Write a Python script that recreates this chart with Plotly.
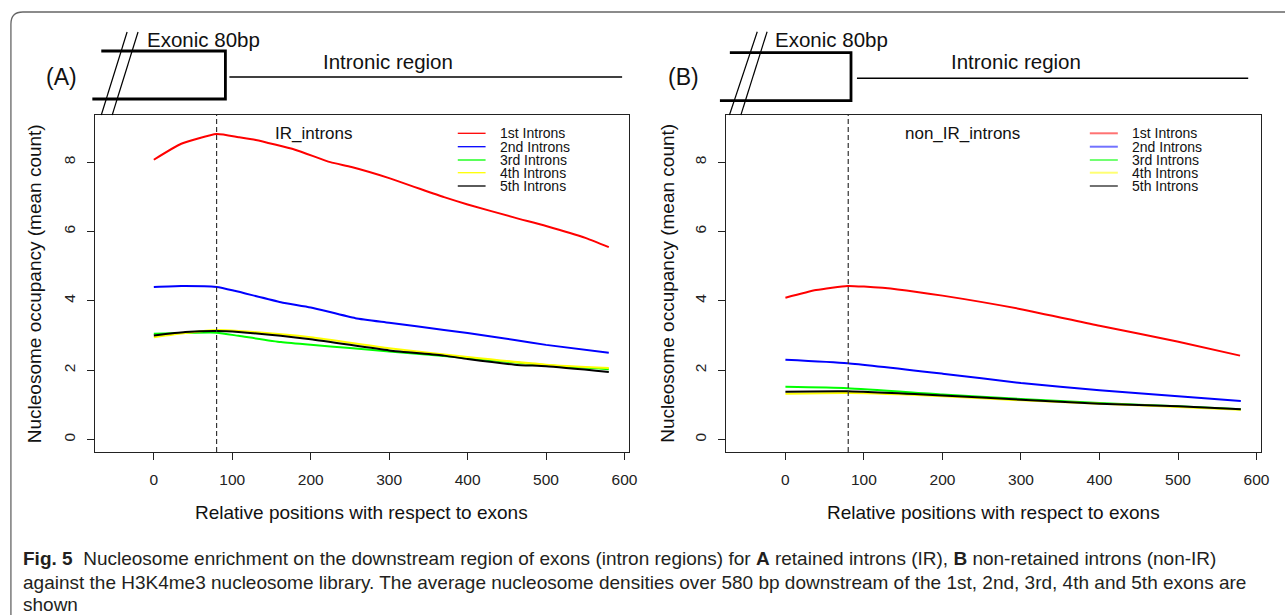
import plotly.graph_objects as go

W, H = 1285, 615

# ---------------- data ----------------
intron_names = ["1st Introns", "2nd Introns", "3rd Introns", "4th Introns", "5th Introns"]
line_colors = ["#ff0000", "#0000ff", "#00ff00", "#ffff00", "#000000"]

x_ticks = [0, 100, 200, 300, 400, 500, 600]
y_ticks = [0, 2, 4, 6, 8]

# Panel A: IR introns
a1_x = [0, 35, 80, 108, 130, 180, 225, 252, 300, 370, 400, 460, 500, 551, 580]
a1_y = [8.07, 8.53, 8.81, 8.72, 8.64, 8.36, 8.00, 7.86, 7.54, 6.99, 6.78, 6.40, 6.16, 5.81, 5.55]
a2_x = [0, 35, 80, 103, 162, 200, 257, 300, 370, 400, 460, 500, 580]
a2_y = [4.40, 4.43, 4.40, 4.29, 3.96, 3.81, 3.50, 3.37, 3.16, 3.07, 2.87, 2.73, 2.50]
a3_x = [0, 80, 108, 162, 200, 250, 300, 400, 500, 580]
a3_y = [3.05, 3.08, 2.99, 2.81, 2.73, 2.64, 2.54, 2.35, 2.14, 2.03]
a4_x = [0, 40, 80, 108, 200, 300, 400, 500, 580]
a4_y = [2.95, 3.07, 3.16, 3.13, 2.95, 2.63, 2.38, 2.16, 2.06]
a5_x = [0, 40, 80, 108, 200, 300, 370, 400, 460, 500, 580]
a5_y = [3.00, 3.10, 3.13, 3.10, 2.89, 2.57, 2.42, 2.32, 2.16, 2.11, 1.95]

# Panel B: non-IR introns
b1_x = [0, 39, 79, 100, 143, 200, 300, 400, 499, 579]
b1_y = [4.09, 4.31, 4.43, 4.41, 4.33, 4.15, 3.76, 3.28, 2.83, 2.42]
b_x = [0, 79, 200, 300, 400, 500, 580]
b2_y = [2.30, 2.20, 1.90, 1.63, 1.42, 1.25, 1.11]
b3_y = [1.52, 1.48, 1.30, 1.17, 1.05, 0.96, 0.87]
b4_y = [1.32, 1.34, 1.25, 1.13, 1.03, 0.94, 0.86]
b5_y = [1.38, 1.39, 1.27, 1.15, 1.03, 0.96, 0.87]

exon_boundary = 80

caption_lines = [
    "<b>Fig. 5</b>&nbsp;&nbsp;Nucleosome enrichment on the downstream region of exons (intron regions) for <b>A</b> retained introns (IR), <b>B</b> non-retained introns (non-IR)",
    "against the H3K4me3 nucleosome library. The average nucleosome densities over 580 bp downstream of the 1st, 2nd, 3rd, 4th and 5th exons are",
    "shown",
]

# ---------------- helpers ----------------
def fx(x):
    return x / W

def fy(y):
    return 1 - y / H

FONT = "Liberation Sans, Arial, sans-serif"

fig = go.Figure()

panelA = [(a1_x, a1_y), (a2_x, a2_y), (a3_x, a3_y), (a4_x, a4_y), (a5_x, a5_y)]
panelB = [(b1_x, b1_y), (b_x, b2_y), (b_x, b3_y), (b_x, b4_y), (b_x, b5_y)]

for (xs, ys), c, n in zip(panelA, line_colors, intron_names):
    fig.add_trace(go.Scatter(x=xs, y=ys, mode="lines", name=n,
                             line=dict(color=c, width=2, shape="spline", smoothing=0.5),
                             xaxis="x", yaxis="y", showlegend=False, hoverinfo="skip"))
for (xs, ys), c, n in zip(panelB, line_colors, intron_names):
    fig.add_trace(go.Scatter(x=xs, y=ys, mode="lines", name=n,
                             line=dict(color=c, width=2, shape="spline", smoothing=0.5),
                             xaxis="x2", yaxis="y2", showlegend=False, hoverinfo="skip"))

axis_common = dict(showgrid=False, zeroline=False, showline=True, mirror=True,
                   linecolor="#222", linewidth=1, ticks="outside", ticklen=7,
                   tickwidth=1, tickcolor="#222",
                   tickfont=dict(family=FONT, size=15.5, color="#222"))

xr = [-75.2, 605.2]
yr = [-0.36, 9.36]

fig.update_layout(
    width=W, height=615,
    margin=dict(l=0, r=0, t=0, b=0),
    paper_bgcolor="white", plot_bgcolor="white",
    showlegend=False,
    xaxis=dict(domain=[fx(95.5), fx(633)], range=xr, tickvals=x_ticks, anchor="y",
               ticklabelstandoff=6, **axis_common),
    yaxis=dict(domain=[fy(452), fy(115)], range=yr, tickvals=y_ticks, anchor="x",
               tickangle=-90, ticklabelstandoff=6, **axis_common),
    xaxis2=dict(domain=[fx(731.5), fx(1269.5)], range=xr, tickvals=x_ticks, anchor="y2",
                ticklabelstandoff=6, **axis_common),
    yaxis2=dict(domain=[fy(452), fy(115)], range=yr, tickvals=y_ticks, anchor="x2",
                tickangle=-90, ticklabelstandoff=6, **axis_common),
)

shapes = []

def pline(x0, y0, x1, y1, color="black", width=1.5, opacity=1):
    shapes.append(dict(type="line", xref="paper", yref="paper",
                       x0=fx(x0), y0=fy(y0), x1=fx(x1), y1=fy(y1),
                       line=dict(color=color, width=width), opacity=opacity))

def ppath(points, color="black", width=2.5):
    d = "M " + " L ".join(f"{fx(x):.5f},{fy(y):.5f}" for x, y in points)
    shapes.append(dict(type="path", xref="paper", yref="paper", path=d,
                       line=dict(color=color, width=width)))

# outer rounded frame
r = 12
d = (f"M {fx(11):.5f},{fy(700):.5f} L {fx(11):.5f},{fy(12 + r):.5f} "
     f"Q {fx(11):.5f},{fy(12):.5f} {fx(11 + r):.5f},{fy(12):.5f} L {fx(1300):.5f},{fy(12):.5f}")
shapes.append(dict(type="path", xref="paper", yref="paper", path=d,
                   line=dict(color="#666", width=1.3)))

# diagram A
ppath([(102, 51), (227, 51), (227, 99), (93, 99)], width=2.8)
pline(231, 77, 626.5, 77, width=1.6)
pline(128, 32, 102, 115, width=1.2)
pline(139, 32, 113, 115, width=1.2)
# diagram B
ppath([(735, 52.7), (857, 52.7), (857, 100.7), (725, 100.7)], width=2.8)
pline(863, 78.3, 1257, 78.3, width=1.6)
pline(762.6, 31.7, 734.6, 115, width=1.2)
pline(772.5, 31.7, 746.1, 115, width=1.2)

# dashed exon boundary lines
for xa, ya in (("x", "y domain"), ("x2", "y2 domain")):
    shapes.append(dict(type="line", xref=xa, yref=ya, x0=exon_boundary, x1=exon_boundary,
                       y0=0, y1=1, line=dict(color="#333", width=1.2, dash="5px,3px")))

# legends (manual, like R legend)
leg_rows = [133.3, 146.7, 160, 172.7, 186]
for c, yy in zip(line_colors, leg_rows):
    pline(461, yy, 489, yy, color=c, width=1.3)
    pline(1097.5, yy, 1125.7, yy, color=c, width=2, opacity=0.55)

fig.update_layout(shapes=shapes)

ann = []

def text(x, y, s, size, xanchor="left", angle=0, family=FONT, color="#111"):
    ann.append(dict(x=fx(x), y=fy(y), xref="paper", yref="paper", text=s, showarrow=False,
                    xanchor=xanchor, yanchor="middle", textangle=angle, borderpad=0,
                    font=dict(family=family, size=size, color=color)))

text(61.5, 77.5, "(A)", 23, xanchor="center")
text(146.7, 39, "Exonic 80bp", 20.5)
text(324.4, 61.7, "Intronic region", 20.5)
text(688.3, 77.5, "(B)", 23, xanchor="center")
text(779.9, 39, "Exonic 80bp", 20.5)
text(956.8, 61.7, "Intronic region", 20.5)

text(276, 133, "IR_introns", 17)
text(910, 133, "non_IR_introns", 17)

for n, yy in zip(intron_names, leg_rows):
    text(503, yy, n, 14)
    text(1139, yy, n, 14)

text(35, 283.5, "Nucleosome occupancy (mean count)", 19, xanchor="center", angle=-90)
text(672, 283.5, "Nucleosome occupancy (mean count)", 19, xanchor="center", angle=-90)
text(364, 512, "Relative positions with respect to exons", 19, xanchor="center")
text(1000.5, 512, "Relative positions with respect to exons", 19, xanchor="center")

for s, yy in zip(caption_lines, [558, 582, 604]):
    text(22, yy, s, 19, color="#231f20")

fig.update_layout(annotations=ann)

fig.write_html("out.html")
